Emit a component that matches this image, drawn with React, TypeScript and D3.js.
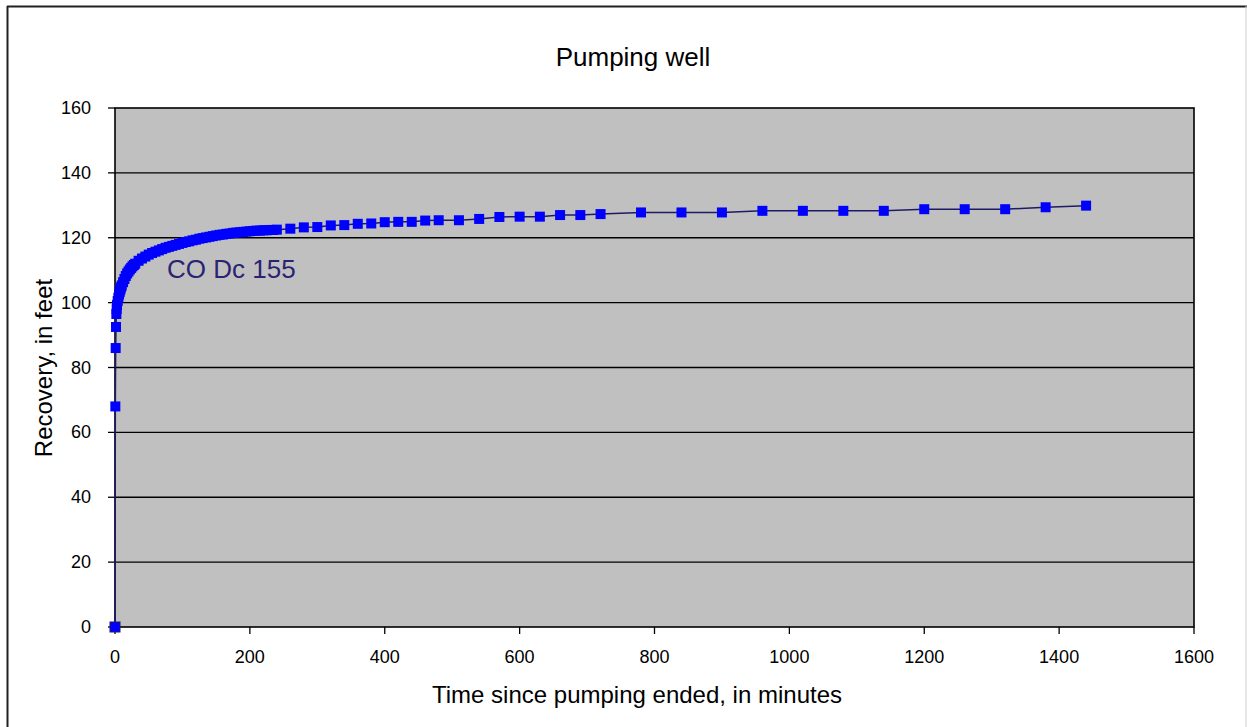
import React from "react";
import * as d3 from "d3";

const TITLE = "Pumping well";
const X_LABEL = "Time since pumping ended, in minutes";
const Y_LABEL = "Recovery, in feet";
const SERIES_LABEL = "CO Dc 155";

const xTicks = [0, 200, 400, 600, 800, 1000, 1200, 1400, 1600];
const yTicks = [0, 20, 40, 60, 80, 100, 120, 140, 160];

// Time since pumping ended (minutes)
const timeMin = [
  0, 0.5, 1, 1.5, 2, 2.5, 3, 4, 5, 6, 7, 8, 9, 10, 12, 14, 16, 18, 20, 22, 24, 26, 28, 30,
  35, 40, 45, 50, 55, 60, 65, 70, 75, 80, 85, 90, 95, 100, 105, 110, 115, 120, 125, 130,
  135, 140, 145, 150, 155, 160, 165, 170, 175, 180, 185, 190, 195, 200, 205, 210, 215,
  220, 225, 230, 235, 240, 260, 280, 300, 320, 340, 360, 380, 400, 420, 440, 460, 480,
  510, 540, 570, 600, 630, 660, 690, 720, 780, 840, 900, 960, 1020, 1080, 1140, 1200,
  1260, 1320, 1380, 1440,
];

// Recovery (feet)
const recoveryFt = [
  0, 68, 86, 92.5, 96.5, 98, 99.3, 100.5, 101.5, 102.5, 103.3, 104, 104.7, 105.3, 106.3,
  107.3, 108.2, 109, 109.6, 110.2, 110.7, 111.2, 111.6, 112, 112.9, 113.6, 114.2, 114.8,
  115.3, 115.7, 116.1, 116.5, 116.9, 117.2, 117.5, 117.8, 118.1, 118.4, 118.7, 118.9, 119.2,
  119.4, 119.7, 119.9, 120.1, 120.3, 120.5, 120.7, 120.9, 121.0, 121.2, 121.3, 121.5, 121.6,
  121.7, 121.8, 121.9, 122.0, 122.1, 122.2, 122.2, 122.3, 122.3, 122.4, 122.4, 122.5,
  122.8, 123.2, 123.3, 123.8, 123.9, 124.3, 124.4, 124.8, 124.9, 124.9, 125.3, 125.4,
  125.4, 125.8, 126.4, 126.5, 126.5, 127.0, 127.0, 127.3, 127.8, 127.8, 127.8, 128.3,
  128.3, 128.3, 128.3, 128.8, 128.8, 128.8, 129.4, 129.9,
];

export default function App() {
  const W = 1247;
  const H = 727;
  const left = 115;
  const right = 1194;
  const top = 108;
  const bottom = 627;

  const x = d3.scaleLinear().domain([0, 1600]).range([left, right]);
  const y = d3.scaleLinear().domain([0, 160]).range([bottom, top]);

  const pts: [number, number][] = timeMin.map((t, i) => [t, recoveryFt[i]]);
  const line = d3
    .line<[number, number]>()
    .x((d) => x(d[0]))
    .y((d) => y(d[1]));

  const font = "'Liberation Sans', Arial, sans-serif";
  const ms = 10;

  return (
    <svg
      width={W}
      height={H}
      style={{ position: "absolute", left: 0, top: 0, background: "#fff" }}
      fontFamily={font}
    >
      <rect x={0} y={0} width={W} height={H} fill="#fff" />
      {/* outer frame */}
      <line x1={7.5} y1={6} x2={7.5} y2={H} stroke="#231f20" strokeWidth={2} />
      <line x1={7} y1={6.5} x2={W} y2={6.5} stroke="#231f20" strokeWidth={2} />
      <line x1={W - 1} y1={6} x2={W - 1} y2={H} stroke="#d0d0d0" strokeWidth={1} />

      <text x={633} y={66} fontSize={26} textAnchor="middle" fill="#000">
        {TITLE}
      </text>

      {/* plot area */}
      <rect x={left} y={top} width={right - left} height={bottom - top} fill="#c0c0c0" />
      {yTicks.map((v) => (
        <g key={"y" + v}>
          {v > 0 && v < 160 && (
            <line x1={left} x2={right} y1={y(v)} y2={y(v)} stroke="#000" strokeWidth={1.3} />
          )}
          <line x1={left - 7} x2={left} y1={y(v)} y2={y(v)} stroke="#000" strokeWidth={1.3} />
          <text
            x={91}
            y={y(v)}
            fontSize={18}
            textAnchor="end"
            dominantBaseline="central"
            fill="#000"
          >
            {v}
          </text>
        </g>
      ))}
      {xTicks.map((v) => (
        <g key={"x" + v}>
          <line x1={x(v)} x2={x(v)} y1={bottom} y2={bottom + 7} stroke="#000" strokeWidth={1.3} />
          <text
            x={x(v)}
            y={bottom + 30}
            fontSize={18}
            textAnchor="middle"
            dominantBaseline="central"
            fill="#000"
          >
            {v}
          </text>
        </g>
      ))}
      <rect
        x={left}
        y={top}
        width={right - left}
        height={bottom - top}
        fill="none"
        stroke="#000"
        strokeWidth={1.6}
      />

      {/* series */}
      <path d={line(pts) ?? ""} fill="none" stroke="#1f1a66" strokeWidth={1.5} />
      {pts.map((d, i) => (
        <rect
          key={i}
          x={x(d[0]) - ms / 2}
          y={y(d[1]) - ms / 2}
          width={ms}
          height={ms}
          fill="#0000ff"
          stroke={i === 0 ? "#1f1a66" : "none"}
          strokeWidth={1}
        />
      ))}

      <text x={167} y={278} fontSize={26} fill="#2a2272">
        {SERIES_LABEL}
      </text>

      <text x={637} y={703} fontSize={24} textAnchor="middle" fill="#000">
        {X_LABEL}
      </text>
      <text
        transform={`translate(52, ${368}) rotate(-90)`}
        fontSize={24}
        textAnchor="middle"
        fill="#000"
      >
        {Y_LABEL}
      </text>
    </svg>
  );
}
